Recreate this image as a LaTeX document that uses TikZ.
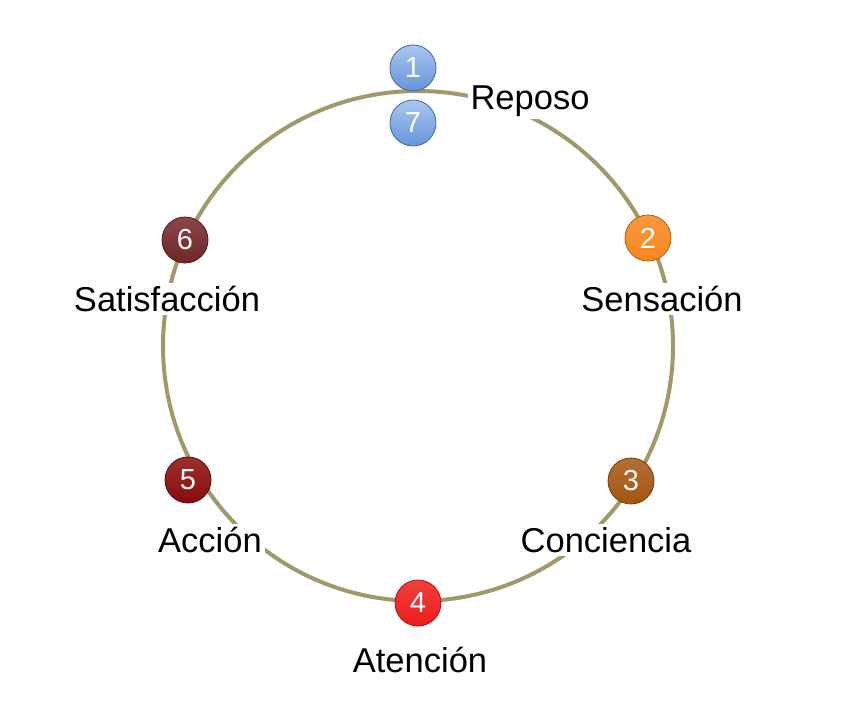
\documentclass[tikz,border=0pt]{standalone}
\usepackage{fontspec}
\setmainfont{Liberation Sans}
\usepackage{xcolor}
\usetikzlibrary{positioning}

\definecolor{ringcol}{HTML}{A09A6A}
\definecolor{bluetop}{HTML}{A9C6F0}
\definecolor{bluebot}{HTML}{6694DA}
\definecolor{orangecol}{HTML}{F7861E}
\definecolor{browncol}{HTML}{A5550F}
\definecolor{redcol}{HTML}{EE1C1C}
\definecolor{darkredcol}{HTML}{890B0B}
\definecolor{maroncol}{HTML}{722628}

\begin{document}
\begin{tikzpicture}[x=1pt, y=-1pt,
		num/.style={circle, draw=#1!70!black, line width=0.8pt, minimum size=46pt,
				inner sep=0pt, text=white, font=\fontsize{29}{31}\selectfont,
				top color=#1!85!white, bottom color=#1},
		bluenum/.style={circle, draw=bluebot!70!black, line width=0.8pt, minimum size=46pt,
				inner sep=0pt, text=white, font=\fontsize{29}{31}\selectfont,
				top color=bluetop, bottom color=bluebot},
		stage/.style={fill=white, inner sep=3pt, font=\fontsize{34.5}{38}\selectfont},
		ring/.style={draw=ringcol, line width=4pt}]

		\useasboundingbox (0,0) rectangle (850,706);

		% ── ring ──
		\coordinate (center) at (418,346);
		\draw[ring] (center) circle[radius=255];

		% ── stage labels (white fill cuts the ring) ──
		\node[stage] (reposo) at (530,101) {Reposo};
		\node[stage] (sensacion) at (662,299) {Sensación};
		\node[stage] (conciencia) at (606,540) {Conciencia};
		\node[stage] (atencion) at (420,660) {Atención};
		\node[stage] (accion) at (210,540) {Acción};
		\node[stage] (satisfaccion) at (167,299) {Satisfacción};

		% ── numbered steps ──
		\node[bluenum] (n1) at (413,68) {1};
		\node[bluenum] (n7) at (413,123) {7};
		\node[num=orangecol] (n2) at (648,238) {2};
		\node[num=browncol] (n3) at (631,481) {3};
		\node[num=redcol] (n4) at (418,603) {4};
		\node[num=darkredcol] (n5) at (188,480) {5};
		\node[num=maroncol] (n6) at (185,240) {6};

	\end{tikzpicture}
\end{document}
